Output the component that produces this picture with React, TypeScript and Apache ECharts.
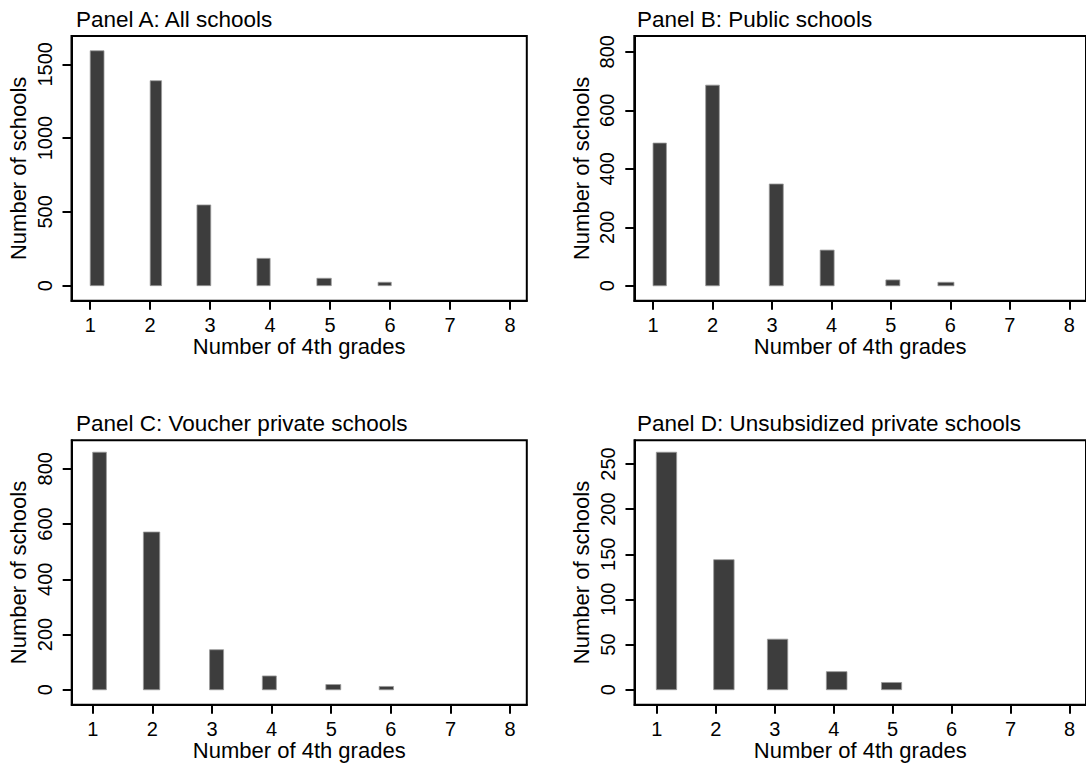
import React, { useEffect, useRef } from "react";
import * as echarts from "echarts";

// ---- data ----
const panelTitles = [
  "Panel A: All schools",
  "Panel B: Public schools",
  "Panel C: Voucher private schools",
  "Panel D: Unsubsidized private schools",
];
const xTickValues = [1, 2, 3, 4, 5, 6, 7, 8];

// histogram bins: left edge, right edge (in number of 4th grades), count
const binLeftA = [1.0, 2.0, 2.78, 3.78, 4.78, 5.8];
const binRightA = [1.23, 2.19, 3.01, 4.0, 5.02, 6.02];
const countsA = [1592, 1389, 547, 185, 50, 23];

const binLeftB = [1.0, 1.885, 2.955, 3.81, 4.915, 5.79];
const binRightB = [1.225, 2.115, 3.19, 4.045, 5.15, 6.06];
const countsB = [488, 686, 348, 122, 20, 12];

const binLeftC = [1.0, 1.85, 2.96, 3.845, 4.91, 5.805];
const binRightC = [1.23, 2.125, 3.195, 4.08, 5.16, 6.045];
const countsC = [860, 571, 145, 50, 19, 12];

const binLeftD = [0.99, 1.963, 2.875, 3.875, 4.81];
const binRightD = [1.335, 2.31, 3.22, 4.225, 5.152];
const countsD = [263, 144, 56, 20, 8];

const yTicksA = [0, 500, 1000, 1500];
const yTicksB = [0, 200, 400, 600, 800];
const yTicksC = [0, 200, 400, 600, 800];
const yTicksD = [0, 50, 100, 150, 200, 250];

const FONT = "'Liberation Sans', Arial, Helvetica, sans-serif";

export default function App() {
  const ref = useRef<HTMLDivElement>(null);

  useEffect(() => {
    if (!ref.current) return;
    const chart = echarts.init(ref.current, undefined, { renderer: "svg" });

    const panels = [
      { lefts: binLeftA, rights: binRightA, counts: countsA, yTicks: yTicksA, xMin: 0.688, xMax: 8.28, yMin: -102, yMax: 1692,
        grid: { left: 71.5, top: 36, width: 455.3, height: 264.7 } },
      { lefts: binLeftB, rights: binRightB, counts: countsB, yTicks: yTicksB, xMin: 0.685, xMax: 8.28, yMin: -51, yMax: 854,
        grid: { left: 634.3, top: 36, width: 455.7, height: 264.7 } },
      { lefts: binLeftC, rights: binRightC, counts: countsC, yTicks: yTicksC, xMin: 0.648, xMax: 8.28, yMin: -54, yMax: 903,
        grid: { left: 71.7, top: 440.3, width: 455.1, height: 264.4 } },
      { lefts: binLeftD, rights: binRightD, counts: countsD, yTicks: yTicksD, xMin: 0.62, xMax: 8.28, yMin: -16.6, yMax: 276.2,
        grid: { left: 634.5, top: 440.3, width: 455.5, height: 264.4 } },
    ];

    const grid = panels.map((p) => ({
      ...p.grid,
      show: true,
      borderColor: "#000",
      borderWidth: 2,
      backgroundColor: "#fff",
      containLabel: false,
    }));

    const plain = (v: number) => String(v);

    const xAxis = panels.map((p, i) => ({
      type: "value",
      gridIndex: i,
      min: p.xMin,
      max: p.xMax,
      name: "Number of 4th grades",
      nameLocation: "middle",
      nameGap: 34,
      nameTextStyle: { fontFamily: FONT, fontSize: 22, color: "#000" },
      axisLine: { show: true, onZero: false, lineStyle: { color: "#000", width: 2 } },
      axisTick: { show: true, length: 9, customValues: xTickValues, lineStyle: { color: "#000", width: 2 } },
      axisLabel: { show: true, customValues: xTickValues, formatter: plain, margin: 14, fontFamily: FONT, fontSize: 20, color: "#000" },
      splitLine: { show: false },
    }));

    const yAxis = panels.map((p, i) => ({
      type: "value",
      gridIndex: i,
      min: p.yMin,
      max: p.yMax,
      name: "Number of schools",
      nameLocation: "middle",
      nameGap: 42,
      nameRotate: 90,
      nameTextStyle: { fontFamily: FONT, fontSize: 22, color: "#000" },
      axisLine: { show: true, onZero: false, lineStyle: { color: "#000", width: 2 } },
      axisTick: { show: true, length: 9, customValues: p.yTicks, lineStyle: { color: "#000", width: 2 } },
      axisLabel: { show: true, customValues: p.yTicks, formatter: plain, rotate: 90, margin: 17, fontFamily: FONT, fontSize: 20, color: "#000" },
      splitLine: { show: false },
    }));

    const series = panels.map((p, i) => ({
      type: "custom",
      xAxisIndex: i,
      yAxisIndex: i,
      encode: { x: [0, 1], y: 2 },
      data: p.counts.map((c, k) => [p.lefts[k], p.rights[k], c]),
      renderItem: (params: any, api: any) => {
        const a = api.coord([api.value(0), api.value(2)]);
        const b = api.coord([api.value(1), 0]);
        return {
          type: "rect",
          shape: { x: a[0], y: a[1], width: b[0] - a[0], height: b[1] - a[1] },
          style: { fill: "#3d3d3d", stroke: "#9a9a9a", lineWidth: 0.8 },
        };
      },
    }));

    const titlePos = [
      [76, 19],
      [637, 19],
      [76, 423.5],
      [637, 423.5],
    ];
    const graphic = panelTitles.map((t, i) => ({
      type: "text",
      x: titlePos[i][0],
      y: titlePos[i][1],
      style: {
        text: t,
        font: `22.5px ${FONT}`,
        fill: "#000",
        textAlign: "left",
        verticalAlign: "middle",
      },
    }));

    chart.setOption({
      animation: false,
      backgroundColor: "#fff",
      grid,
      xAxis,
      yAxis,
      series,
      graphic,
    });

    return () => chart.dispose();
  }, []);

  return (
    <div
      ref={ref}
      style={{ position: "fixed", left: 0, top: 0, width: 1086, height: 766, background: "#fff" }}
    />
  );
}
